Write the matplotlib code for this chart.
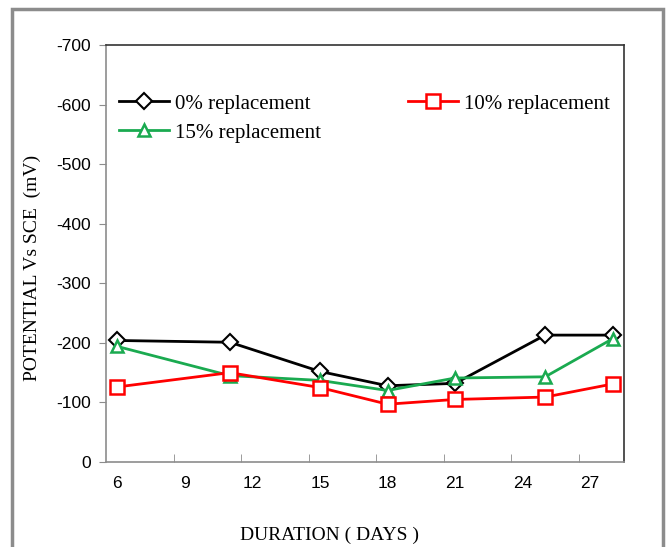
import matplotlib
matplotlib.use('Agg')
import matplotlib.pyplot as plt
from matplotlib.patches import Rectangle

plt.rcParams['font.family'] = ['Liberation Serif', 'DejaVu Serif']

days = [6, 11, 15, 18, 21, 25, 28]
pot_0 = [-204, -201, -152, -128, -132, -213, -213]
pot_10 = [-126, -150, -125, -97, -105, -109, -131]
pot_15 = [-194, -145, -137, -120, -141, -143, -207]

x_labels = [6, 9, 12, 15, 18, 21, 24, 27]
y_ticks = [0, -100, -200, -300, -400, -500, -600, -700]

fig = plt.figure(figsize=(6.7, 5.47), dpi=100)
ax = fig.add_axes([106/670, 1 - 462/547, 518/670, 417/547])

# outer chart-area frame
fig.patches.append(Rectangle((12/670, -0.05), 651/670, 1.05 - 9/547,
                             transform=fig.transFigure, fill=False,
                             edgecolor='#8c8c8c', linewidth=2.5))

ax.plot(days, pot_0, color='black', linewidth=2, marker='D', markersize=8,
        markerfacecolor='white', markeredgecolor='black', markeredgewidth=1.5,
        label='0% replacement')
ax.plot(days, pot_15, color='#1aaa50', linewidth=2, marker='^', markersize=9,
        markerfacecolor='white', markeredgecolor='#1aaa50', markeredgewidth=1.8,
        label='15% replacement')
ax.plot(days, pot_10, color='#ff0000', linewidth=2, marker='s', markersize=10,
        markerfacecolor='white', markeredgecolor='#ff0000', markeredgewidth=1.8,
        label='10% replacement')

tick_font = {'family': ['Liberation Sans', 'DejaVu Sans'], 'size': 12.5}
ax.set_xlim(5.5, 28.5)
ax.set_ylim(0, -700)
ax.set_yticks(y_ticks)
ax.set_yticklabels([str(v) for v in y_ticks], fontdict=tick_font)
ax.set_xticks(x_labels)
ax.set_xticklabels([str(v) for v in x_labels], fontdict=tick_font)
ax.tick_params(axis='x', length=0, pad=10)
ax.set_xticks([8.5 + 3 * k for k in range(7)], minor=True)
ax.tick_params(axis='x', which='minor', direction='in', length=6, color='#8c8c8c')
ax.tick_params(axis='y', direction='out', length=5, color='#8c8c8c', pad=6)

ax.spines['left'].set_color('#8c8c8c')
ax.spines['bottom'].set_color('#8c8c8c')
ax.spines['top'].set_color('#333333')
ax.spines['right'].set_color('#333333')
for s in ax.spines.values():
    s.set_linewidth(1.2)

ax.set_xlabel('DURATION ( DAYS )', fontsize=14, va='center')
ax.xaxis.set_label_coords(0.432, -0.175)
ax.set_ylabel('POTENTIAL Vs SCE  (mV)', fontsize=14, va='center')
ax.yaxis.set_label_coords(-0.143, 0.465)

ax.legend(loc='upper left', bbox_to_anchor=(0.0, 0.912), ncol=2, frameon=False,
          fontsize=15, handlelength=2.4, columnspacing=4.2, handletextpad=0.3,
          labelspacing=0.45, borderaxespad=0.2)

fig.savefig('out.png', dpi=100)
